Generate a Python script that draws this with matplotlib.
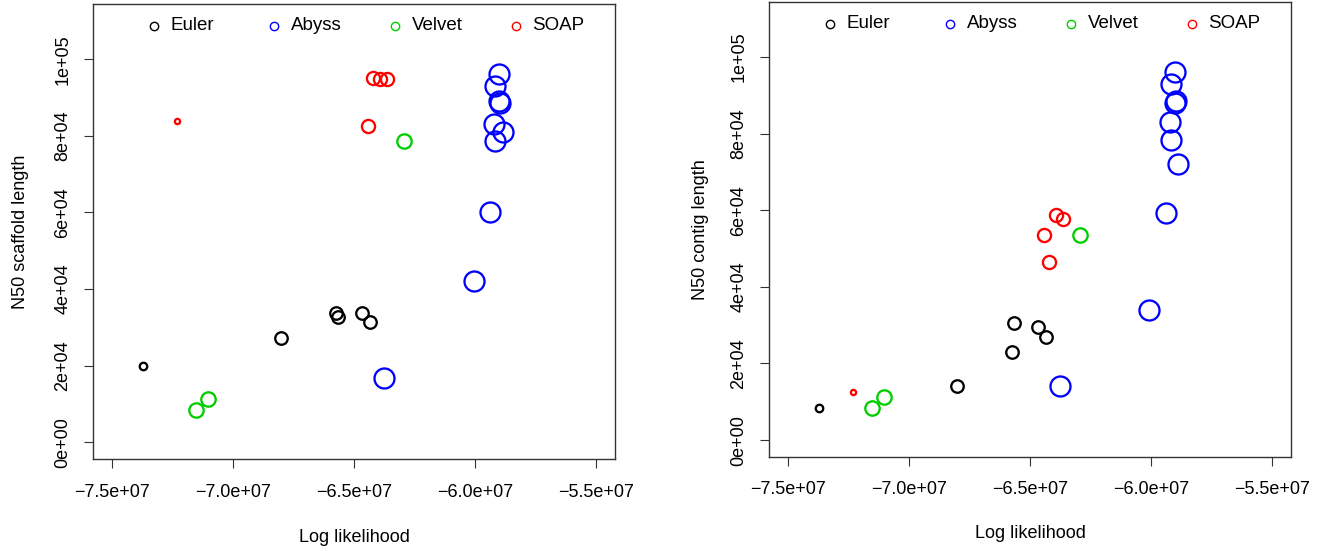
import matplotlib
matplotlib.use("Agg")
import matplotlib.pyplot as plt
import numpy as np

plt.rcParams['font.family'] = ['Liberation Sans', 'DejaVu Sans']

# ---- data (log likelihood in 1e6 units, lengths in 1e3 units) ----
methods = ["Euler", "Abyss", "Velvet", "SOAP"]
method_colors = ["black", "#0000FF", "#00CD00", "#FF0000"]

euler_ll = [-73.72, -68.01, -65.74, -65.66, -64.68, -64.35]
euler_scaffold = [19.9, 27.2, 33.7, 32.8, 33.8, 31.5]
euler_contig = [8.4, 14.2, 23.0, 30.5, 29.4, 26.9]
euler_cex = [0.6, 1.0, 1.0, 1.0, 1.0, 1.0]

abyss_ll = [-63.75, -60.06, -59.39, -59.22, -59.18, -59.18, -59.01, -59.00, -58.96, -58.86]
abyss_scaffold = [16.7, 42.1, 60.1, 83.0, 92.9, 78.7, 96.1, 89.1, 88.5, 80.9]
abyss_contig = [14.0, 33.9, 59.2, 82.9, 92.8, 78.4, 96.0, 88.0, 88.4, 72.1]
abyss_cex = [1.6] * 10

velvet_ll = [-62.95, -71.05, -71.52]
velvet_scaffold = [78.6, 11.4, 8.4]
velvet_contig = [53.4, 11.2, 8.4]
velvet_cex = [1.15, 1.15, 1.15]

soap_ll = [-72.31, -64.23, -63.93, -63.65, -64.41]
soap_scaffold = [83.9, 95.2, 94.8, 94.8, 82.6]
soap_contig = [12.5, 46.5, 58.7, 57.8, 53.4]
soap_cex = [0.42, 1.05, 1.05, 1.05, 1.05]

xticks = [-7.5e7, -7.0e7, -6.5e7, -6.0e7, -5.5e7]
xtick_labels = ["\u22127.5e+07", "\u22127.0e+07", "\u22126.5e+07", "\u22126.0e+07", "\u22125.5e+07"]
yticks = [0, 2e4, 4e4, 6e4, 8e4, 1e5]
ytick_labels = ["0e+00", "2e+04", "4e+04", "6e+04", "8e+04", "1e+05"]

ll_all = [euler_ll, abyss_ll, velvet_ll, soap_ll]
scaffold_all = [euler_scaffold, abyss_scaffold, velvet_scaffold, soap_scaffold]
contig_all = [euler_contig, abyss_contig, velvet_contig, soap_contig]
cex_all = [euler_cex, abyss_cex, velvet_cex, soap_cex]

FS = 13
BASE_MS = 9.0  # marker diameter in points for cex=1

fig = plt.figure(figsize=(13.23, 5.51), dpi=100)
W, H = 1323, 551

def make_axes(l, t, r, b):
    return fig.add_axes([l / W, 1 - b / H, (r - l) / W, (b - t) / H])

ax1 = make_axes(93, 4, 615.3, 459.3)
ax2 = make_axes(769, 1.7, 1291, 457.0)

def draw(ax, yvals, ylabel, xlab_y, ylab_x):
    for ll, yv, cex, col in zip(ll_all, yvals, cex_all, method_colors):
        for x, y, c in zip(ll, yv, cex):
            ax.plot(x * 1e6, y * 1e3, marker='o', linestyle='none', markersize=BASE_MS * c,
                    markerfacecolor='none', markeredgecolor=col, markeredgewidth=1.65)
    ax.set_xlim(-7.5e7 - 0.8e6, -5.5e7 + 0.8e6)
    ax.set_ylim(-4.4e3, 114.4e3)
    ax.set_xticks(xticks)
    ax.set_xticklabels(xtick_labels, fontsize=FS)
    ax.set_yticks(yticks)
    ax.set_yticklabels(ytick_labels, fontsize=FS, rotation=90, va='center')
    ax.tick_params(axis='both', length=6.5, width=0.8, color='#333333')
    ax.tick_params(axis='x', pad=11)
    ax.tick_params(axis='y', pad=9)
    for s in ax.spines.values():
        s.set_linewidth(1.0)
        s.set_color('#333333')
    ax.set_xlabel("Log likelihood", fontsize=FS, va='center')
    ax.xaxis.set_label_coords(0.5, xlab_y)
    ax.set_ylabel(ylabel, fontsize=FS, va='center')
    ax.yaxis.set_label_coords(ylab_x, 0.5)
    # legend (R style, horizontal, no box)
    x0, dx, ly = 0.116, 0.2313, 0.952
    for i, (m, col) in enumerate(zip(methods, method_colors)):
        ax.plot([x0 + i * dx], [ly], transform=ax.transAxes, marker='o', linestyle='none',
                markersize=6.0, markerfacecolor='none', markeredgecolor=col, markeredgewidth=1.0,
                clip_on=False)
        ax.text(x0 + i * dx + 0.0316, ly, m, transform=ax.transAxes, fontsize=FS + 0.5,
                ha='left', va='center')

draw(ax1, scaffold_all, "N50 scaffold length", -0.1707, -0.138)
draw(ax2, contig_all, "N50 contig length", -0.167, -0.131)

fig.savefig("out.png", dpi=100)
